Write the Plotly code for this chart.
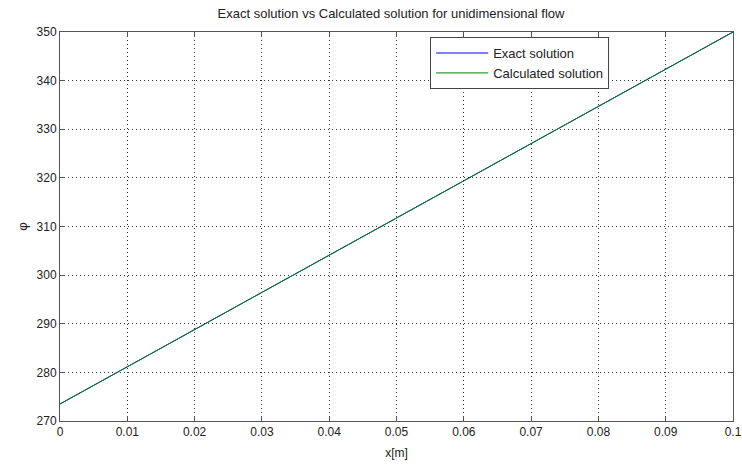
import plotly.graph_objects as go

x_nodes = [0.0, 0.01, 0.02, 0.03, 0.04, 0.05, 0.06, 0.07, 0.08, 0.09, 0.1]
exact_phi = [273.5, 281.15, 288.8, 296.45, 304.1, 311.75, 319.4, 327.05, 334.7, 342.35, 350.0]
calc_phi = [273.5, 281.15, 288.8, 296.45, 304.1, 311.75, 319.4, 327.05, 334.7, 342.35, 350.0]

x_ticks = [0, 0.01, 0.02, 0.03, 0.04, 0.05, 0.06, 0.07, 0.08, 0.09, 0.1]
x_ticklabels = ["0", "0.01", "0.02", "0.03", "0.04", "0.05", "0.06", "0.07", "0.08", "0.09", "0.1"]
y_ticks = [270, 280, 290, 300, 310, 320, 330, 340, 350]

font = "Liberation Sans, Arial, sans-serif"
txt = "#222222"

fig = go.Figure()
fig.add_trace(go.Scatter(x=x_nodes, y=exact_phi, mode="lines", name="Exact solution",
                         line=dict(color="#0000ff", width=1)))
fig.add_trace(go.Scatter(x=x_nodes, y=calc_phi, mode="lines", name="Calculated solution",
                         line=dict(color="#008000", width=1)))

axis_common = dict(showgrid=True, gridcolor="#333333", griddash="1px,3px", gridwidth=1,
                   showline=True, linecolor="#555555", linewidth=1, mirror="ticks",
                   ticks="inside", ticklen=5, tickcolor="#555555", zeroline=False,
                   ticklabeloverflow="allow", automargin=False,
                   tickfont=dict(family=font, size=12, color=txt))

fig.update_layout(
    width=742, height=466,
    margin=dict(l=60, r=9, t=32, b=45),
    paper_bgcolor="white", plot_bgcolor="white",
    title=dict(text="Exact solution vs Calculated solution for unidimensional flow",
               x=0.527, xanchor="center", y=0.972, yanchor="middle",
               font=dict(family=font, size=13, color=txt)),
    xaxis=dict(range=[0, 0.1], tickvals=x_ticks, ticktext=x_ticklabels,
               title=dict(text="x[m]", font=dict(family=font, size=12, color=txt), standoff=10),
               **axis_common),
    yaxis=dict(range=[270, 350], tickvals=y_ticks,
               title=dict(text="φ", font=dict(family=font, size=13, color=txt), standoff=6),
               **axis_common),
    legend=dict(x=0.55, y=0.987, xanchor="left", yanchor="top",
                bgcolor="white", bordercolor="#444444", borderwidth=1,
                font=dict(family=font, size=13, color=txt),
                tracegroupgap=0, itemwidth=52),
    showlegend=True,
)

fig.write_html("out.html")
